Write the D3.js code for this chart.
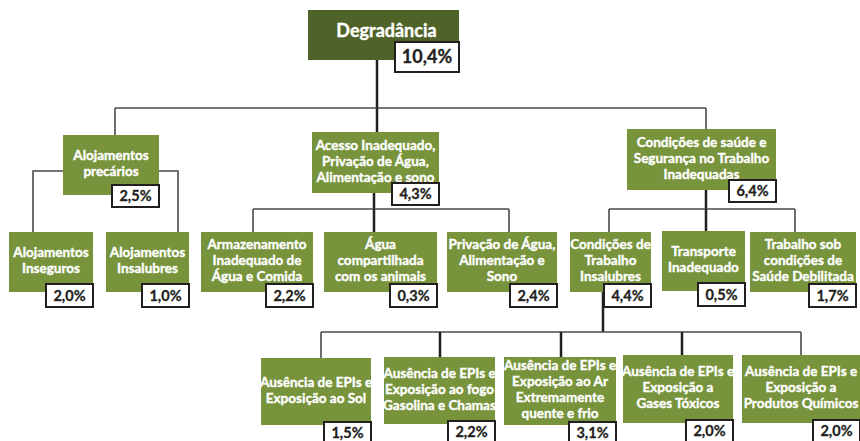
<!DOCTYPE html>
<html>
<head>
<meta charset="utf-8">
<script src="https://cdn.jsdelivr.net/npm/d3@7"></script>
<style>
  body { margin: 0; background: #fff; }
  svg { display: block; }
  text { font-family: Lato, "Open Sans", sans-serif; font-weight: 700; }
</style>
</head>
<body>
<svg id="chart" width="860" height="441"></svg>
<script>
// tree data
const ids = ["root", "alojPrec", "acesso", "condSaude", "inseguros", "insalubres",
  "armazen", "agua", "privacao", "condTrab", "transporte", "trabSob",
  "sol", "fogo", "ar", "gases", "produtos"];
const parents = [null, "root", "root", "root", "alojPrec", "alojPrec",
  "acesso", "acesso", "acesso", "condSaude", "condSaude", "condSaude",
  "condTrab", "condTrab", "condTrab", "condTrab", "condTrab"];
const labels = [
  "Degradância",
  "Alojamentos\nprecários",
  "Acesso Inadequado,\nPrivação de Água,\nAlimentação e sono",
  "Condições de saúde e\nSegurança no Trabalho\nInadequadas",
  "Alojamentos\nInseguros",
  "Alojamentos\nInsalubres",
  "Armazenamento\nInadequado de\nÁgua e Comida",
  "Água\ncompartilhada\ncom os animais",
  "Privação de Água,\nAlimentação e\nSono",
  "Condições de\nTrabalho\nInsalubres",
  "Transporte\nInadequado",
  "Trabalho sob\ncondições de\nSaúde Debilitada",
  "Ausência de EPIs e\nExposição ao Sol",
  "Ausência de EPIs e\nExposição ao fogo\nGasolina e Chamas",
  "Ausência de EPIs e\nExposição ao Ar\nExtremamente\nquente e frio",
  "Ausência de EPIs e\nExposição a\nGases Tóxicos",
  "Ausência de EPIs e\nExposição a\nProdutos Químicos"
];
const values = [10.4, 2.5, 4.3, 6.4, 2.0, 1.0, 2.2, 0.3, 2.4, 4.4, 0.5, 1.7, 1.5, 2.2, 3.1, 2.0, 2.0];

// box layout (x, y, w, h) and where connectors enter / leave
const geom = {
  root:       { x: 308, y: 10,  w: 151, h: 50, outX: 377, busY: 108 },
  alojPrec:   { x: 63,  y: 135, w: 96,  h: 60, inX: 115, sideY: 171 },
  acesso:     { x: 312, y: 132, w: 127, h: 61, inX: 377, outX: 374, busY: 209 },
  condSaude:  { x: 627, y: 129, w: 149, h: 61, inX: 706, outX: 706, busY: 209 },
  inseguros:  { x: 9,   y: 232, w: 84,  h: 60, inX: 33 },
  insalubres: { x: 106, y: 232, w: 83,  h: 60, inX: 178 },
  armazen:    { x: 201, y: 232, w: 112, h: 60, inX: 253 },
  agua:       { x: 324, y: 232, w: 113, h: 60, inX: 374 },
  privacao:   { x: 447, y: 232, w: 110, h: 60, inX: 509 },
  condTrab:   { x: 570, y: 232, w: 81,  h: 60, inX: 609, outX: 603, busY: 332 },
  transporte: { x: 662, y: 231, w: 83,  h: 60, inX: 706 },
  trabSob:    { x: 750, y: 232, w: 106, h: 60, inX: 795 },
  sol:        { x: 261, y: 358, w: 110, h: 67, inX: 321 },
  fogo:       { x: 384, y: 357, w: 111, h: 67, inX: 440 },
  ar:         { x: 504, y: 357, w: 112, h: 68, inX: 561 },
  gases:      { x: 623, y: 355, w: 110, h: 68, inX: 682 },
  produtos:   { x: 742, y: 355, w: 118, h: 68, inX: 801 }
};
// value tag: offset above box bottom, height, width per depth
const tagUp = [18, 10, 8, 3];
const tagH = [30, 22, 23, 22];
const tagW = [64, 47, 47, 47];

const pt = d3.formatLocale({ decimal: ",", thousands: ".", grouping: [3], currency: ["", ""] });
const fmt = v => pt.format(".1f")(v) + "%";

const rows = ids.map((id, i) => ({ id, parent: parents[i], label: labels[i], value: values[i] }));
const root = d3.stratify().id(d => d.id).parentId(d => d.parent)(rows);

const svg = d3.select("#chart");
const gLinks = svg.append("g").attr("fill", "none");
const gNodes = svg.append("g");

const thick = { stroke: "#231f20", w: 2.5 };
const thin = { stroke: "#4a4a4a", w: 1.6 };

function seg(path, st) {
  gLinks.append("path").attr("d", path.toString())
    .attr("stroke", st.stroke).attr("stroke-width", st.w);
}

root.each(node => {
  if (!node.children) return;
  const g = geom[node.id];
  const kids = node.children;
  if (g.sideY != null) {
    kids.forEach(k => {
      const c = geom[k.id];
      const p = d3.path();
      const fromX = c.inX < g.x + g.w / 2 ? g.x : g.x + g.w;
      p.moveTo(fromX, g.sideY);
      p.lineTo(c.inX, g.sideY);
      p.lineTo(c.inX, c.y);
      seg(p, thin);
    });
    return;
  }
  const trunk = d3.path();
  trunk.moveTo(g.outX, g.y + g.h);
  trunk.lineTo(g.outX, g.busY);
  seg(trunk, thick);

  const xs = kids.map(k => geom[k.id].inX);
  const bus = d3.path();
  bus.moveTo(d3.min(xs), g.busY);
  bus.lineTo(d3.max(xs), g.busY);
  seg(bus, thin);

  kids.forEach((k, i) => {
    const c = geom[k.id];
    const p = d3.path();
    p.moveTo(c.inX, g.busY);
    p.lineTo(c.inX, c.y);
    const outer = i === 0 || i === kids.length - 1;
    seg(p, outer ? thin : thick);
  });
});

const node = gNodes.selectAll("g.node")
  .data(root.descendants())
  .join("g")
  .attr("class", "node");

node.append("rect")
  .attr("x", d => geom[d.id].x)
  .attr("y", d => geom[d.id].y)
  .attr("width", d => geom[d.id].w)
  .attr("height", d => geom[d.id].h)
  .attr("fill", d => d.depth === 0 ? "#4f6228" : "#77933c");

node.each(function (d) {
  const g = geom[d.id];
  const lines = d.data.label.split("\n");
  const fs = d.depth === 0 ? 18 : 13.5;
  const lh = 16;
  const cy = d.depth === 0 ? g.y + 21 : g.y + g.h / 2 - 1.5;
  const y0 = cy - (lines.length - 1) * lh / 2 + fs * 0.35;
  const t = d3.select(this).append("text")
    .attr("fill", "#fff")
    .attr("stroke", "#fff")
    .attr("stroke-width", 0.35)
    .attr("font-size", fs)
    .attr("text-anchor", "middle");
  lines.forEach((ln, i) => {
    t.append("tspan")
      .attr("x", g.x + g.w / 2 + (d.depth === 0 ? 3 : 0))
      .attr("y", y0 + i * lh)
      .text(ln);
  });

  // value tag
  const w = tagW[d.depth], h = tagH[d.depth];
  const tx = g.x + g.w - w, ty = g.y + g.h - tagUp[d.depth];
  const sel = d3.select(this);
  sel.append("rect")
    .attr("x", tx + 1).attr("y", ty + 1)
    .attr("width", w).attr("height", h)
    .attr("fill", "#b5b5b5");
  sel.append("rect")
    .attr("x", tx).attr("y", ty)
    .attr("width", w).attr("height", h)
    .attr("fill", "#fff")
    .attr("stroke", "#231f20")
    .attr("stroke-width", 2);
  sel.append("text")
    .attr("x", tx + w / 2)
    .attr("y", ty + h / 2)
    .attr("dy", "0.36em")
    .attr("text-anchor", "middle")
    .attr("font-size", d.depth === 0 ? 18 : 14.5)
    .attr("fill", "#231f20")
    .attr("stroke", "#231f20")
    .attr("stroke-width", 0.3)
    .text(fmt(d.data.value));
});
</script>
</body>
</html>
